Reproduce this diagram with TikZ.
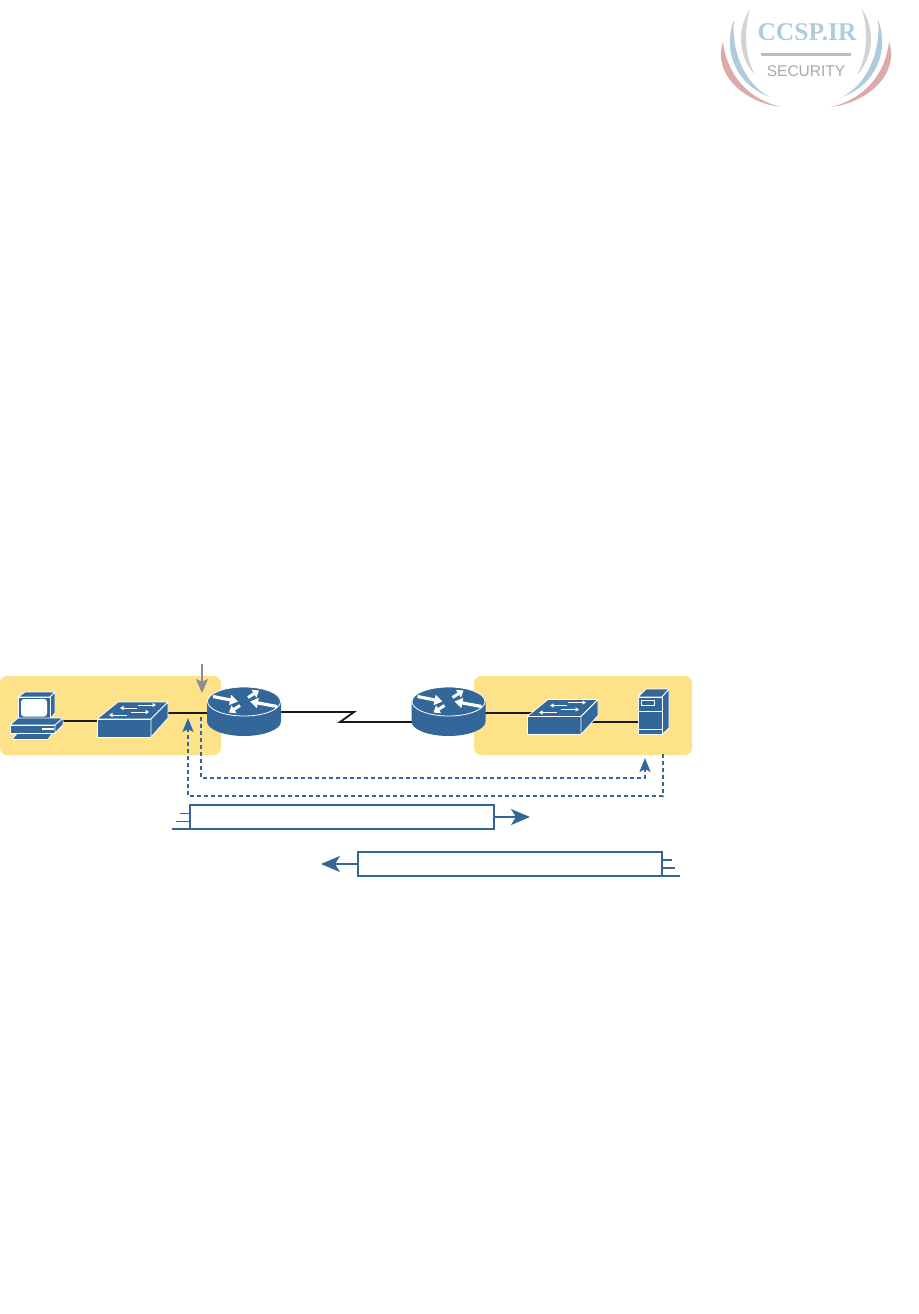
\documentclass[tikz,border=0pt]{standalone}
\usepackage{fontspec}
\setmainfont{Liberation Serif}
\newfontfamily\logosans{Liberation Sans}
\usetikzlibrary{arrows.meta}
\definecolor{netblue}{HTML}{336699}
\definecolor{bandyellow}{HTML}{FDE28A}
\definecolor{pointergray}{HTML}{8C8C8C}
\definecolor{logoblue}{HTML}{B0CCDC}
\definecolor{logogray}{HTML}{D2D2D2}
\definecolor{logored}{HTML}{DDAAAA}
\definecolor{logobar}{HTML}{BDBDBD}
\definecolor{logotext}{HTML}{A8A8A8}
\tikzset{
  band/.style={fill=bandyellow,rounded corners=7pt,inner sep=0pt,draw=none},
  wire/.style={line width=1.8pt,draw=black!90},
  device/.style={fill=netblue,draw=white,line width=0.8pt,line join=round},
  whiteln/.style={draw=white,line width=0.8pt},
  flowline/.style={draw=netblue,line width=1.7pt,dash pattern=on 4pt off 3pt},
  flowtip/.style={-{Stealth[length=14pt,width=11pt,inset=3pt]}},
  packet/.style={draw=netblue,line width=1.8pt,fill=white,inner sep=0pt,minimum width=304pt,minimum height=24pt},
  packetln/.style={draw=netblue,line width=1.8pt},
  packettip/.style={-{Stealth[length=19pt,width=16pt,inset=5pt]}},
  routerarrow/.style={draw=white,line width=3.2pt,-{Triangle[length=8pt,width=10pt]}},
  routerarrowsmall/.style={draw=white,line width=3pt,-{Triangle[length=6pt,width=9pt]}},
  swarrow/.style={draw=white,line width=1pt,-{Triangle[length=3.5pt,width=4pt]}},
  pics/routericon/.style={code={
    \path[device,draw=none] (-37,0) -- (-37,20) .. controls (-37,28) and (-20,34.5) .. (0,34.5) .. controls (20,34.5) and (37,28) .. (37,20) -- (37,0) -- cycle;
    \path[device] (0,0) ellipse[x radius=36.5,y radius=14.5];
    \draw[routerarrow] (-31,-5) -- (-6,0);
    \draw[routerarrowsmall] (4,-4) -- (15,-11);
    \draw[routerarrow] (33,5) -- (6,0);
    \draw[routerarrowsmall] (-4,4) -- (-15,11);
  }},
  pics/switchicon/.style={code={
    \path[device] (0,17) -- (21,0) -- (71,0) -- (54,17) -- cycle;
    \path[device] (0,17) rectangle (54,35);
    \path[device] (54,17) -- (71,0) -- (71,16) -- (54,35) -- cycle;
    \draw[swarrow] (41,3) -- (59,3);
    \draw[swarrow] (40,6) -- (23,6);
    \draw[swarrow] (34,10) -- (52,10);
    \draw[swarrow] (30,13) -- (12,13);
  }},
}
\begin{document}
\begin{tikzpicture}[x=1pt,y=-1pt]
\useasboundingbox (0,0) rectangle (918,1314);

% logo
\foreach \s in {1,-1}{
  \begin{scope}[shift={(806,0)},xscale=\s]
    \fill[logogray] (-56,9) .. controls (-70,30) and (-67,58) .. (-51,75) .. controls (-62,55) and (-62,30) .. cycle;
    \fill[logoblue] (-72,20) .. controls (-84,50) and (-70,85) .. (-36,97) .. controls (-62,84) and (-75,50) .. cycle;
    \fill[logored] (-83,42) .. controls (-94,75) and (-60,103) .. (-25,107) .. controls (-58,99) and (-79,75) .. cycle;
  \end{scope}
}
\node[text=logoblue,font=\bfseries\fontsize{25.5}{25.5}\selectfont,inner sep=0pt] (logoname) at (807,32) {CCSP.IR};
\node[fill=logobar,minimum width=90pt,minimum height=3pt,inner sep=0pt] (logobar) at (806,55) {};
\node[text=logotext,font=\logosans\fontsize{15.5}{15.5}\selectfont,inner sep=0pt] (logosub) at (806,71) {SECURITY};

% LAN bands
\node[band,minimum width=221pt,minimum height=79pt] (lanleft) at (110.5,715.5) {};
\node[band,minimum width=218pt,minimum height=79pt] (lanright) at (583,715.5) {};

% ports
\coordinate (pcport) at (63,721);
\coordinate (swAw) at (97,721);
\coordinate (swAe) at (168,713);
\coordinate (rAw) at (207,713);
\coordinate (rAe) at (280,712);
\coordinate (zigA) at (354,712);
\coordinate (zigB) at (340,722);
\coordinate (rBw) at (412,722);
\coordinate (rBe) at (485,713);
\coordinate (swBw) at (535,713);
\coordinate (swBe) at (592,722);
\coordinate (srvport) at (638,722);

% wires
\draw[wire] (pcport) -- (swAw);
\draw[wire] (swAe) -- (rAw);
\draw[wire,line join=miter] (rAe) -- (zigA) -- (zigB) -- (rBw);
\draw[wire] (rBe) -- (swBw);
\draw[wire] (swBe) -- (srvport);

% PC
\begin{scope}
  \path[device] (25,692) -- (55,692) -- (50,697) -- (18,697) -- cycle;
  \path[device] (50,697) -- (55,692) -- (55,713) -- (50,719) -- cycle;
  \path[device] (18,697) rectangle (50,719);
  \fill[white,rounded corners=3pt] (21,699) rectangle (47,716.5);
  \path[device] (10,725) -- (18,718) -- (63,718) -- (55,725) -- cycle;
  \path[device] (10,725) rectangle (55,733);
  \path[device] (55,725) -- (63,718) -- (63,725) -- (55,733) -- cycle;
  \fill[white] (42,727.5) rectangle (54,729.5);
  \path[device] (12,739.5) -- (17,733.5) -- (52,733.5) -- (48,739.5) -- cycle;
\end{scope}
\node[inner sep=0pt,minimum width=53pt,minimum height=48pt] (pc) at (36.5,716) {};

% switches
\pic (swA) at (97,702) {switchicon};
\pic (swB) at (527,699.5) {switchicon};

% routers
\pic (rA) at (244,701.5) {routericon};
\pic (rB) at (448.5,701.5) {routericon};

% server
\path[device] (638,697) -- (646,689) -- (669,689) -- (662,697) -- cycle;
\path[device] (662,697) -- (669,689) -- (669,728) -- (662,734.5) -- cycle;
\path[device] (638,697) rectangle (662,734.5);
\draw[whiteln] (638,711) -- (662,711);
\draw[whiteln] (638,729) -- (662,729);
\draw[whiteln,line width=0.6pt] (641,700.5) rectangle (654,705);
\node[inner sep=0pt,minimum width=31pt,minimum height=46pt] (server) at (653.5,712) {};

% pointer
\coordinate (ptrstart) at (202,664);
\coordinate (ptrend) at (202,693);
\draw[draw=pointergray,line width=1.6pt,-{Stealth[length=14pt,width=12pt,inset=3pt]}] (ptrstart) -- (ptrend);

% dashed flows
\coordinate (reqstart) at (201,717);
\coordinate (reqa) at (201,778);
\coordinate (reqb) at (645,778);
\coordinate (reqend) at (645,758);
\draw[flowline,flowtip] (reqstart) -- (reqa) -- (reqb) -- (reqend);
\coordinate (repstart) at (663,754);
\coordinate (repa) at (663,796);
\coordinate (repb) at (188,796);
\coordinate (repend) at (188,718);
\draw[flowline,flowtip] (repstart) -- (repa) -- (repb) -- (repend);

% packets
\node[packet] (pktone) at (342,817) {};
\coordinate (pktonetip) at (530,817);
\draw[packetln,packettip] (pktone.east) -- (pktonetip);
\coordinate (oa) at (180,813.5);
\coordinate (ob) at (176,821.5);
\coordinate (oc) at (172,829);
\draw[packetln] (oa) -- (oa -| pktone.west);
\draw[packetln] (ob) -- (ob -| pktone.west);
\draw[packetln] (oc) -- (oc -| pktone.west);

\node[packet] (pkttwo) at (510,864) {};
\coordinate (pkttwotip) at (321,864);
\draw[packetln,packettip] (pkttwo.west) -- (pkttwotip);
\coordinate (ta) at (672,860);
\coordinate (tb) at (675,868);
\coordinate (tc) at (680,876);
\draw[packetln] (ta) -- (ta -| pkttwo.east);
\draw[packetln] (tb) -- (tb -| pkttwo.east);
\draw[packetln] (tc) -- (tc -| pkttwo.east);
\end{tikzpicture}
\end{document}
